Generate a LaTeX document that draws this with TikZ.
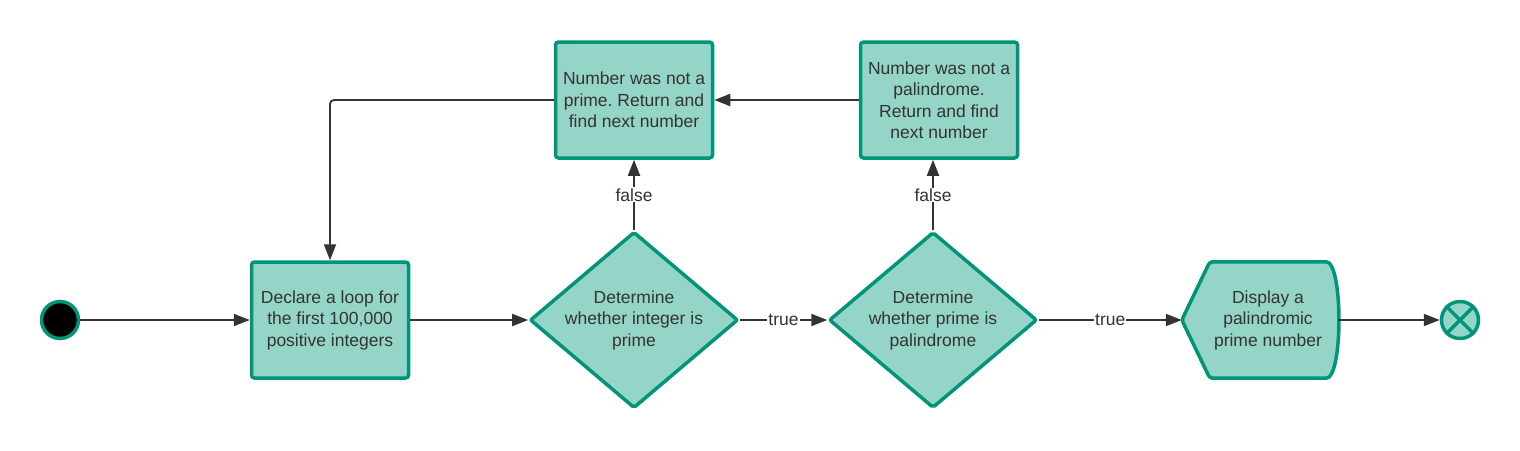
\documentclass[tikz,border=0pt]{standalone}
\usepackage{fontspec}
\setmainfont{Liberation Sans}
\usetikzlibrary{shapes.geometric,arrows.meta}
\definecolor{boxfill}{HTML}{94D5C8}
\definecolor{boxline}{HTML}{009579}
\definecolor{ink}{HTML}{333333}
\frenchspacing
\tikzset{
  txt/.style={text=ink,font=\fontsize{17.5}{21.5}\selectfont,align=center},
  box/.style={txt,draw=boxline,fill=boxfill,line width=3.5pt,rounded corners=3pt,minimum width=157pt,minimum height=116pt,inner sep=0pt},
  decide/.style={txt,diamond,draw=boxline,fill=boxfill,line width=3.5pt,rounded corners=2pt,minimum width=208pt,minimum height=176pt,aspect=1.18,inner sep=0pt},
  arr/.style={draw=ink,line width=1.8pt,-{Triangle[length=16pt,width=12pt]}},
  lbl/.style={txt,fill=white,inner sep=1pt}
}
\begin{document}
\begin{tikzpicture}[x=1pt,y=-1pt]
\useasboundingbox (0,0) rectangle (1520,450);
\node[circle,draw=boxline,fill=black,line width=3.5pt,minimum size=37pt,inner sep=0pt] (start) at (60,320) {};
\node[box] (loop) at (330,320) {Declare a loop for\\the first 100,000\\positive integers};
\node[decide] (isprime) at (634,320) {Determine\\whether integer is\\prime};
\node[decide] (ispal) at (933,320) {Determine\\whether prime is\\palindrome};
\node[minimum width=156pt,minimum height=116pt,inner sep=0pt] (disp) at (1260,320) {};
\node[circle,draw=boxline,fill=boxfill,line width=3.5pt,minimum size=37pt,inner sep=0pt] (stop) at (1460,320) {};
\node[box] (notprime) at (634,100) {Number was not a\\prime. Return and\\find next number};
\node[box] (notpal) at (939,100) {Number was not a\\palindrome.\\Return and find\\next number};
% display shape
\path[draw=boxline,fill=boxfill,line width=3.5pt,rounded corners=3pt]
  ([xshift=28pt]disp.north west) -- (disp.west) -- ([xshift=28pt]disp.south west)
  -- ([xshift=-15pt]disp.south east)
  .. controls ([xshift=5pt]disp.south east) and ([xshift=5pt]disp.north east) .. ([xshift=-15pt]disp.north east)
  -- cycle;
\node[txt,xshift=8pt] (disptext) at (disp) {Display a\\palindromic\\prime number};
\path[draw=boxline,line width=3.5pt] (stop.north west) -- (stop.south east)
  (stop.north east) -- (stop.south west);
\path[arr] (start) -- (loop);
\path[arr] (loop) -- (isprime);
\path[arr] (isprime) -- node[lbl]{true} (ispal);
\path[arr] (ispal) -- node[lbl]{true} (disp.west);
\path[arr] (disp.east) -- (stop);
\path[arr] (isprime) -- node[lbl]{false} (notprime);
\path[arr] (ispal.north) -- node[lbl]{false} (ispal.north |- notpal.south);
\path[arr] (notpal) -- (notprime);
\path[arr,rounded corners=4pt] (notprime.west) -| (loop.north);
\end{tikzpicture}
\end{document}
